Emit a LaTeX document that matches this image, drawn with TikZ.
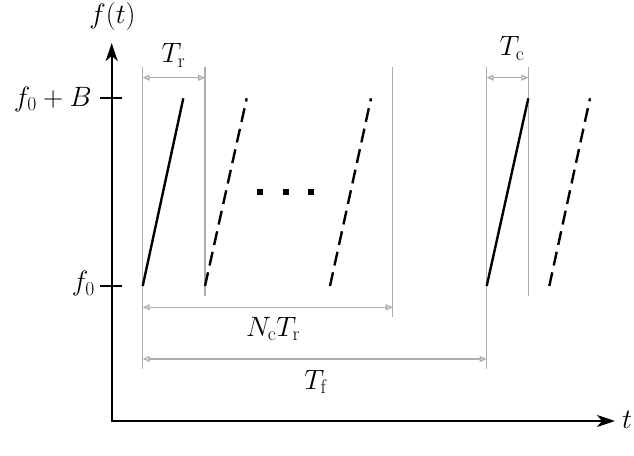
\RequirePackage{fix-cm}
\documentclass[tikz,border=0pt]{standalone}
\usetikzlibrary{arrows.meta}
\definecolor{dimgray}{RGB}{170,174,180}
\begin{document}
\begin{tikzpicture}[x=1bp,y=-1bp,
  font=\fontsize{28bp}{32bp}\selectfont,
  axis/.style={line width=2.4bp, black},
  guide/.style={draw=dimgray, line width=1.3bp},
  dimline/.style={guide, {Triangle[open,length=7bp,width=6bp]}-{Triangle[open,length=7bp,width=6bp]}},
  chirp/.style={line width=2.4bp, black},
  ghost/.style={chirp, dash pattern=on 14bp off 7bp},
  lbl/.style={inner sep=0pt, anchor=base},
  dotsq/.style={fill=black, inner sep=0pt, minimum size=6bp, draw=none}]
\useasboundingbox (0,0) rectangle (634,456);

% axes
\coordinate (O) at (111.7,421);
\coordinate (Ytop) at (111.7,43);
\coordinate (Xend) at (615,421);
\draw[axis, {Stealth[length=18bp,width=12bp,inset=5bp]}-{Stealth[length=18bp,width=12bp,inset=5bp]}] (Ytop) -- (O) -- (Xend);
\node[lbl] (ylab) at (112.5,24) {$f(t)$};
\node[lbl, anchor=base west] (xlab) at (622,428) {$t$};

% ticks
\coordinate (tB1) at (100,98.3); \coordinate (tB2) at (122,98.3);
\coordinate (t01) at (100,286); \coordinate (t02) at (122,286);
\draw[axis] (tB1) -- (tB2);
\draw[axis] (t01) -- (t02);
\node[lbl, anchor=base east] (lB) at (92,106.5) {$f_0+B$};
\node[lbl, anchor=base east] (l0) at (95,291) {$f_0$};

% guide lines
\coordinate (g1t) at (142.7,67); \coordinate (g1b) at (142.7,369.3);
\coordinate (g2t) at (205,67);   \coordinate (g2b) at (205,296);
\coordinate (g3t) at (392.7,67); \coordinate (g3b) at (392.7,316.7);
\coordinate (g4t) at (486.7,67); \coordinate (g4b) at (486.7,369.3);
\coordinate (g5t) at (528.3,67); \coordinate (g5b) at (528.3,296);
\draw[guide] (g1t) -- (g1b);
\draw[guide] (g2t) -- (g2b);
\draw[guide] (g3t) -- (g3b);
\draw[guide] (g4t) -- (g4b);
\draw[guide] (g5t) -- (g5b);

% dimension arrows
\coordinate (trA) at (142.7,77.7); \coordinate (trB) at (205,77.7);
\coordinate (tcA) at (486.7,77.7); \coordinate (tcB) at (528.3,77.7);
\coordinate (ncA) at (142.7,307.3); \coordinate (ncB) at (392.7,307.3);
\coordinate (tfA) at (142.7,359); \coordinate (tfB) at (486.7,359);
\draw[dimline] (trA) -- (trB);
\draw[dimline] (tcA) -- (tcB);
\draw[dimline] (ncA) -- (ncB);
\draw[dimline] (tfA) -- (tfB);
\node[lbl] (Tr) at (173.5,63) {$T_{\mathrm{r}}$};
\node[lbl] (Tc) at (512,56) {$T_{\mathrm{c}}$};
\node[lbl] (NcTr) at (273,336) {$N_{\mathrm{c}}T_{\mathrm{r}}$};
\node[lbl] (Tf) at (316,389) {$T_{\mathrm{f}}$};

% chirps
\coordinate (c1a) at (142.7,286); \coordinate (c1b) at (183.3,98.3);
\coordinate (c2a) at (205,286);   \coordinate (c2b) at (246.7,98.3);
\coordinate (c3a) at (330,286);   \coordinate (c3b) at (371,98.3);
\coordinate (c4a) at (486.7,286); \coordinate (c4b) at (528.3,98.3);
\coordinate (c5a) at (549.3,286); \coordinate (c5b) at (590,98.3);
\draw[chirp] (c1a) -- (c1b);
\draw[ghost] (c2a) -- (c2b);
\draw[ghost] (c3a) -- (c3b);
\draw[chirp] (c4a) -- (c4b);
\draw[ghost] (c5a) -- (c5b);

% ellipsis dots
\node[dotsq] (d1) at (260,192.3) {};
\node[dotsq] (d2) at (285.7,192.3) {};
\node[dotsq] (d3) at (311,192.3) {};
\end{tikzpicture}
\end{document}
